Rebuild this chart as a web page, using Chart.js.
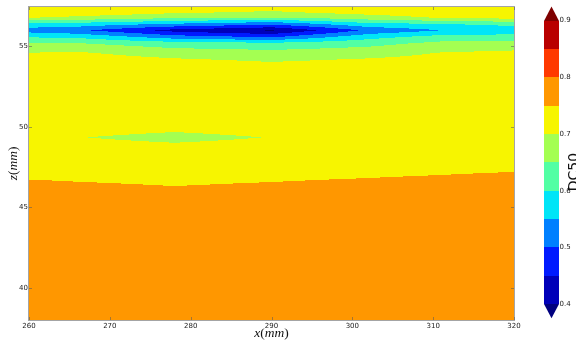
<!DOCTYPE html>
<html>
<head>
<meta charset="utf-8">
<script src="https://cdn.jsdelivr.net/npm/chart.js@4.4.1/dist/chart.umd.min.js"></script>
<style>
  html, body { margin: 0; padding: 0; background: #fff; }
</style>
</head>
<body>
<canvas id="theGraph" width="576" height="342"></canvas>
<script>
// measurement grid (mm)
var xPositions = [260, 266, 278, 290, 302, 311, 320];
var zPositions = [38, 46, 48, 49.35, 51, 54, 54.6, 55.2, 55.6, 56, 56.4, 56.8, 57.1, 57.45];

// DC50, one row per z position (bottom to top), one column per x position
var dc50 = [
    [0.77, 0.77, 0.77, 0.77, 0.77, 0.77, 0.77],
    [0.7615, 0.7584, 0.7538, 0.758, 0.7639, 0.7704, 0.78],
    [0.73, 0.73, 0.73, 0.73, 0.73, 0.73, 0.73],
    [0.72, 0.701, 0.69, 0.701, 0.72, 0.72, 0.72],
    [0.74, 0.74, 0.74, 0.74, 0.74, 0.74, 0.74],
    [0.73, 0.73, 0.718, 0.702, 0.715, 0.72, 0.72],
    [0.701, 0.705, 0.677, 0.668, 0.68, 0.702, 0.71],
    [0.65, 0.651, 0.622, 0.609, 0.633, 0.662, 0.67],
    [0.595, 0.588, 0.521, 0.492, 0.581, 0.618, 0.621],
    [0.528, 0.509, 0.432, 0.395, 0.51, 0.55, 0.567],
    [0.583, 0.581, 0.546, 0.5125, 0.5875, 0.599, 0.616],
    [0.704, 0.69, 0.6625, 0.651, 0.679, 0.705, 0.72],
    [0.73, 0.73, 0.705, 0.691, 0.715, 0.73, 0.73],
    [0.73, 0.73, 0.73, 0.725, 0.73, 0.73, 0.73]
];

var levels = [0.4, 0.45, 0.5, 0.55, 0.6, 0.65, 0.7, 0.75, 0.8, 0.85, 0.9];
var xTicks = [260, 270, 280, 290, 300, 310, 320];
var zTicks = [40, 45, 50, 55];
var cbTicks = [0.4, 0.5, 0.6, 0.7, 0.8, 0.9];

// jet colours: under, the 10 bands, over
var bandColors = ["#00007f", "#0000b9", "#001aff", "#0080ff", "#00e5f7", "#52ffa4",
                  "#a4ff52", "#f7f500", "#ff9700", "#ff3900", "#b90000", "#7f0000"];

function findCell(arr, v) {
    for (var i = 0; i < arr.length - 2; i++) {
        if (v < arr[i + 1]) return i;
    }
    return arr.length - 2;
}

function valueAt(x, z) {
    var i = findCell(xPositions, x);
    var j = findCell(zPositions, z);
    var tx = (x - xPositions[i]) / (xPositions[i + 1] - xPositions[i]);
    var tz = (z - zPositions[j]) / (zPositions[j + 1] - zPositions[j]);
    tx = Math.max(0, Math.min(1, tx));
    tz = Math.max(0, Math.min(1, tz));
    var a = dc50[j][i] * (1 - tx) + dc50[j][i + 1] * tx;
    var b = dc50[j + 1][i] * (1 - tx) + dc50[j + 1][i + 1] * tx;
    return a * (1 - tz) + b * tz;
}

function bandIndex(v) {
    var k = 0;
    while (k < levels.length && v >= levels[k]) k++;
    return k;
}

function hexToRgb(h) {
    return [parseInt(h.substr(1, 2), 16), parseInt(h.substr(3, 2), 16), parseInt(h.substr(5, 2), 16)];
}

// draw text with italic letters and upright brackets, like mathtext
function drawMath(ctx, parts, size) {
    var total = 0;
    parts.forEach(function (p) {
        ctx.font = (p[1] ? "italic " : "") + size + "px 'Liberation Serif'";
        total += ctx.measureText(p[0]).width;
    });
    var x = -total / 2;
    parts.forEach(function (p) {
        ctx.font = (p[1] ? "italic " : "") + size + "px 'Liberation Serif'";
        ctx.fillText(p[0], x, 0);
        x += ctx.measureText(p[0]).width;
    });
}

var contourPlugin = {
    id: "contourField",
    beforeDatasetsDraw: function (chart) {
        var area = chart.chartArea;
        var xs = chart.scales.x, zs = chart.scales.y;
        var w = Math.round(area.right - area.left), h = Math.round(area.bottom - area.top);
        var off = document.createElement("canvas");
        off.width = w; off.height = h;
        var octx = off.getContext("2d");
        var img = octx.createImageData(w, h);
        var rgb = bandColors.map(hexToRgb);
        for (var py = 0; py < h; py++) {
            var z = zs.getValueForPixel(area.top + py + 0.5);
            for (var px = 0; px < w; px++) {
                var x = xs.getValueForPixel(area.left + px + 0.5);
                var c = rgb[bandIndex(valueAt(x, z))];
                var o = (py * w + px) * 4;
                img.data[o] = c[0]; img.data[o + 1] = c[1]; img.data[o + 2] = c[2]; img.data[o + 3] = 255;
            }
        }
        octx.putImageData(img, 0, 0);
        chart.ctx.drawImage(off, area.left, area.top);
    },
    afterDraw: function (chart) {
        var ctx = chart.ctx, area = chart.chartArea;
        var xs = chart.scales.x, zs = chart.scales.y, cb = chart.scales.cb;

        // frame and inward ticks
        ctx.save();
        ctx.strokeStyle = "rgba(90,90,90,0.55)";
        ctx.lineWidth = 1;
        ctx.strokeRect(area.left - 0.5, area.top - 0.5, area.right - area.left + 1, area.bottom - area.top + 1);
        ctx.beginPath();
        xTicks.forEach(function (v) {
            var p = Math.round(xs.getPixelForValue(v)) + 0.5;
            ctx.moveTo(p, area.bottom); ctx.lineTo(p, area.bottom - 3);
            ctx.moveTo(p, area.top); ctx.lineTo(p, area.top + 3);
        });
        zTicks.forEach(function (v) {
            var p = Math.round(zs.getPixelForValue(v)) + 0.5;
            ctx.moveTo(area.left, p); ctx.lineTo(area.left + 3, p);
            ctx.moveTo(area.right, p); ctx.lineTo(area.right - 3, p);
        });
        ctx.stroke();
        ctx.restore();

        // axis titles
        ctx.save();
        ctx.fillStyle = "#111";
        ctx.textBaseline = "middle";
        ctx.translate((area.left + area.right) / 2, 333);
        drawMath(ctx, [["x", true], ["(", false], ["mm", true], [")", false]], 13.5);
        ctx.restore();
        ctx.save();
        ctx.fillStyle = "#111";
        ctx.textBaseline = "middle";
        ctx.translate(13, (area.top + area.bottom) / 2);
        ctx.rotate(-Math.PI / 2);
        drawMath(ctx, [["z", true], ["(", false], ["mm", true], [")", false]], 13.5);
        ctx.restore();

        // colorbar
        var bx = area.right + 30, bw = 15;
        var ext = 0.025;
        ctx.save();
        for (var i = 0; i < levels.length - 1; i++) {
            var y1 = cb.getPixelForValue(levels[i]);
            var y2 = cb.getPixelForValue(levels[i + 1]);
            ctx.fillStyle = bandColors[i + 1];
            ctx.fillRect(bx, Math.round(y2), bw, Math.round(y1) - Math.round(y2));
        }
        var yLow = Math.round(cb.getPixelForValue(levels[0]));
        var yHigh = Math.round(cb.getPixelForValue(levels[levels.length - 1]));
        ctx.fillStyle = bandColors[0];
        ctx.beginPath();
        ctx.moveTo(bx, yLow); ctx.lineTo(bx + bw, yLow);
        ctx.lineTo(bx + bw / 2, cb.getPixelForValue(levels[0] - ext));
        ctx.closePath(); ctx.fill();
        ctx.fillStyle = bandColors[bandColors.length - 1];
        ctx.beginPath();
        ctx.moveTo(bx, yHigh); ctx.lineTo(bx + bw, yHigh);
        ctx.lineTo(bx + bw / 2, cb.getPixelForValue(levels[levels.length - 1] + ext));
        ctx.closePath(); ctx.fill();

        ctx.fillStyle = "#222";
        ctx.font = "7px 'DejaVu Sans'";
        ctx.textAlign = "left";
        ctx.textBaseline = "middle";
        cbTicks.forEach(function (v) {
            ctx.fillText(v.toFixed(1), bx + bw + 0.5, cb.getPixelForValue(v));
        });

        ctx.fillStyle = "#111";
        ctx.font = "14px 'DejaVu Sans'";
        ctx.textAlign = "center";
        ctx.translate(574, 172);
        ctx.rotate(-Math.PI / 2);
        ctx.fillText("DC50", 0, 0);
        ctx.restore();
    }
};

var gridPoints = [];
zPositions.forEach(function (z, j) {
    xPositions.forEach(function (x, i) {
        gridPoints.push({ x: x, y: z, v: dc50[j][i] });
    });
});

var ctx = document.getElementById("theGraph").getContext("2d");
var theGraph = new Chart(ctx, {
    type: "scatter",
    data: {
        datasets: [{
            data: gridPoints,
            pointRadius: 0,
            label: "DC50"
        }]
    },
    options: {
        responsive: false,
        animation: false,
        events: [],
        layout: { padding: { top: 7, right: 62, left: 0, bottom: 0 } },
        plugins: {
            legend: { display: false },
            tooltip: { enabled: false }
        },
        scales: {
            x: {
                type: "linear",
                min: 260,
                max: 320,
                grid: { display: false, drawTicks: false },
                border: { display: false },
                afterBuildTicks: function (s) { s.ticks = xTicks.map(function (v) { return { value: v }; }); },
                afterFit: function (s) { s.height = 22; },
                ticks: {
                    padding: 2,
                    maxRotation: 0,
                    autoSkip: false,
                    color: "#222",
                    font: { family: "DejaVu Sans", size: 7 }
                }
            },
            y: {
                type: "linear",
                min: 38,
                max: 57.45,
                grid: { display: false, drawTicks: false },
                border: { display: false },
                afterBuildTicks: function (s) { s.ticks = zTicks.map(function (v) { return { value: v }; }); },
                afterFit: function (s) { s.width = 29; },
                ticks: {
                    padding: 1,
                    color: "#222",
                    font: { family: "DejaVu Sans", size: 7 }
                }
            },
            cb: {
                type: "linear",
                axis: "y",
                position: "right",
                display: false,
                min: 0.372,
                max: 0.924
            }
        }
    },
    plugins: [contourPlugin]
});
</script>
</body>
</html>
